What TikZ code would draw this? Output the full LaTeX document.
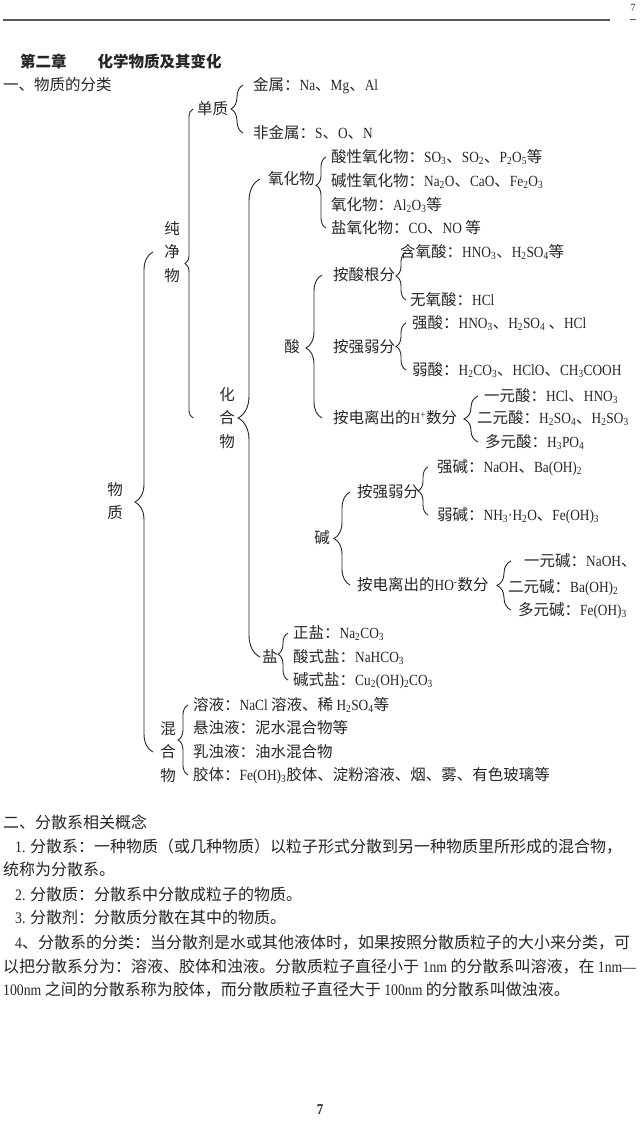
\documentclass[tikz,border=0pt]{standalone}
\usepackage{fontspec}
\setmainfont[FakeStretch=0.86]{Liberation Serif}
\newfontfamily\cjkf{Noto Sans CJK SC}
\usetikzlibrary{decorations.pathreplacing}
\definecolor{pageInk}{HTML}{262626}
\definecolor{pageRule}{HTML}{5a5a5a}
\newcommand\sbs[1]{\textsubscript{#1}}
% Chinese characters in the CJK family, the rest in the serif
\XeTeXinterchartokenstate=1
\newXeTeXintercharclass\cjkcls
\newcount\cjkc
\def\cjkrange#1#2{\cjkc=#1\relax
  \loop\XeTeXcharclass\cjkc=\cjkcls\relax\ifnum\cjkc<#2\advance\cjkc by 1\repeat}
\cjkrange{"3000}{"303F}
\cjkrange{"4E00}{"9FFF}
\cjkrange{"FF00}{"FFEF}
\XeTeXinterchartoks 0 \cjkcls = {\cjkf}
\XeTeXinterchartoks 4095 \cjkcls = {\cjkf}
\XeTeXinterchartoks \cjkcls 0 = {\rmfamily}
\XeTeXinterchartoks \cjkcls 4095 = {\rmfamily}

\begin{document}
\begin{tikzpicture}[x=1pt, y=-1pt, font=\fontsize{15.5}{18}\selectfont,
    lbl/.style={anchor=west, inner sep=0pt, text=pageInk, text height=13pt, text depth=1.5pt},
    vt/.style={inner sep=0pt, align=center, text=pageInk, font=\fontsize{15.5}{23.5}\selectfont},
    para/.style={lbl, font=\fontsize{16}{19}\selectfont},
    brc/.style 2 args={decorate, decoration={brace, amplitude=#1pt, aspect=#2}, draw=pageInk, line width=0.9pt},
    rule/.style={draw=pageRule, line width=1.4pt}]
  \fill[white] (0,0) rectangle (640,1126);
  \useasboundingbox (0,0) rectangle (640,1126);
  % page head
  \draw[rule] (3,20) -- (610,20);
  \node[text=pageInk, font=\fontsize{11}{12}\selectfont] (topnum) at (633,8) {7};
  \draw[rule, line width=1pt] (630,20) -- (636,20);
  \node[lbl, font=\bfseries\fontsize{15.5}{18}\selectfont] (title) at (20,62) {第二章\hspace{2em}化学物质及其变化};
  \node[lbl] (sec1) at (3,85) {一、物质的分类};
  % tree
  \node[vt] (matter) at (115,501) {物\\质};
  \node[vt] (pure) at (172,252) {纯\\净\\物};
  \node[vt] (mixed) at (168,752) {混\\合\\物};
  \node[lbl] (elem) at (197,109) {单质};
  \node[lbl] (metal) at (253,85) {金属：Na、Mg、Al};
  \node[lbl] (nonmetal) at (253,133) {非金属：S、O、N};
  \node[vt] (compound) at (227,418) {化\\合\\物};
  \node[lbl] (oxide) at (268,179) {氧化物};
  \node[lbl] (ox1) at (331,157) {酸性氧化物：SO\sbs{3}、SO\sbs{2}、P\sbs{2}O\sbs{5}等};
  \node[lbl] (ox2) at (331,181) {碱性氧化物：Na\sbs{2}O、CaO、Fe\sbs{2}O\sbs{3}};
  \node[lbl] (ox3) at (331,205) {氧化物：Al\sbs{2}O\sbs{3}等};
  \node[lbl] (ox4) at (331,228) {盐氧化物：CO、NO 等};
  \node[lbl, anchor=center] (acid) at (292,347) {酸};
  \node[lbl] (acBy) at (333,275) {按酸根分};
  \node[lbl] (acO) at (400,252) {含氧酸：HNO\sbs{3}、H\sbs{2}SO\sbs{4}等};
  \node[lbl] (acNo) at (410,300) {无氧酸：HCl};
  \node[lbl] (acSt) at (333,347) {按强弱分};
  \node[lbl] (acS1) at (412,323) {强酸：HNO\sbs{3}、H\sbs{2}SO\sbs{4} 、HCl};
  \node[lbl] (acS2) at (412,370) {弱酸：H\sbs{2}CO\sbs{3}、HClO、CH\sbs{3}COOH};
  \node[lbl] (acH) at (333,418) {按电离出的H\textsuperscript{+}数分};
  \node[lbl] (acH1) at (484,396) {一元酸：HCl、HNO\sbs{3}};
  \node[lbl] (acH2) at (477,418) {二元酸：H\sbs{2}SO\sbs{4}、H\sbs{2}SO\sbs{3}};
  \node[lbl] (acH3) at (485,442) {多元酸：H\sbs{3}PO\sbs{4}};
  \node[lbl, anchor=center] (base) at (322,538) {碱};
  \node[lbl] (bsSt) at (357,492) {按强弱分};
  \node[lbl] (bs1) at (437,467) {强碱：NaOH、Ba(OH)\sbs{2}};
  \node[lbl] (bs2) at (437,515) {弱碱：NH\sbs{3}·H\sbs{2}O、Fe(OH)\sbs{3}};
  \node[lbl] (bsOH) at (357,585) {按电离出的HO\textsuperscript{-}数分};
  \node[lbl] (bsOH1) at (524,561) {一元碱：NaOH、};
  \node[lbl] (bsOH2) at (508,587) {二元碱：Ba(OH)\sbs{2}};
  \node[lbl] (bsOH3) at (518,610) {多元碱：Fe(OH)\sbs{3}};
  \node[lbl, anchor=center] (salt) at (270,657) {盐};
  \node[lbl] (sa1) at (293,633) {正盐：Na\sbs{2}CO\sbs{3}};
  \node[lbl] (sa2) at (293,657) {酸式盐：NaHCO\sbs{3}};
  \node[lbl] (sa3) at (293,680) {碱式盐：Cu\sbs{2}(OH)\sbs{2}CO\sbs{3}};
  \node[lbl] (mx1) at (193,705) {溶液：NaCl 溶液、稀 H\sbs{2}SO\sbs{4}等};
  \node[lbl] (mx2) at (193,728) {悬浊液：泥水混合物等};
  \node[lbl] (mx3) at (193,752) {乳浊液：油水混合物};
  \node[lbl] (mx4) at (193,775) {胶体：Fe(OH)\sbs{3}胶体、淀粉溶液、烟、雾、有色玻璃等};
  % braces
  \draw[brc={18}{0.5}] (153,0 |- mixed) -- (153,0 |- pure);
  \draw[brc={8}{0.5}] (193,0 |- compound) -- (193,0 |- elem);
  \draw[brc={12}{0.5}] (243,0 |- nonmetal) -- (243,0 |- metal);
  \draw[brc={22}{0.5}] (260,0 |- salt) -- (260,0 |- oxide);
  \draw[brc={10}{0.6}] (326,0 |- ox4) -- (326,0 |- ox1);
  \draw[brc={16}{0.49}] (322,0 |- acH) -- (322,0 |- acBy);
  \draw[brc={10}{0.5}] (406,0 |- acNo) -- (406,0 |- acO);
  \draw[brc={10}{0.5}] (406,0 |- acS2) -- (406,0 |- acS1);
  \draw[brc={14}{0.5}] (478,0 |- acH3) -- (478,0 |- acH1);
  \draw[brc={16}{0.5}] (350,0 |- bsOH) -- (350,0 |- bsSt);
  \draw[brc={10}{0.5}] (428,0 |- bs2) -- (428,0 |- bs1);
  \draw[brc={14}{0.5}] (511,0 |- bsOH3) -- (511,0 |- bsOH1);
  \draw[brc={10}{0.55}] (288,0 |- sa3) -- (288,0 |- sa1);
  \draw[brc={10}{0.5}] (188,0 |- mx4) -- (188,0 |- mx1);
  % dispersion systems
  \node[para] (sec2) at (3,823) {二、分散系相关概念};
  \node[para] (p1) at (15,847) {1. 分散系：一种物质（或几种物质）以粒子形式分散到另一种物质里所形成的混合物，};
  \node[para] (p1b) at (3,870) {统称为分散系。};
  \node[para] (p2) at (15,895) {2. 分散质：分散系中分散成粒子的物质。};
  \node[para] (p3) at (15,918) {3. 分散剂：分散质分散在其中的物质。};
  \node[para] (p4) at (15,943) {4、分散系的分类：当分散剂是水或其他液体时，如果按照分散质粒子的大小来分类，可};
  \node[para] (p4b) at (3,967) {以把分散系分为：溶液、胶体和浊液。分散质粒子直径小于 1nm 的分散系叫溶液，在 1nm—};
  \node[para] (p4c) at (3,990) {100nm 之间的分散系称为胶体，而分散质粒子直径大于 100nm 的分散系叫做浊液。};
  \node[text=pageInk, font=\bfseries\fontsize{15}{16}\selectfont] (pgnum) at (320,1110) {7};
\end{tikzpicture}
\end{document}
